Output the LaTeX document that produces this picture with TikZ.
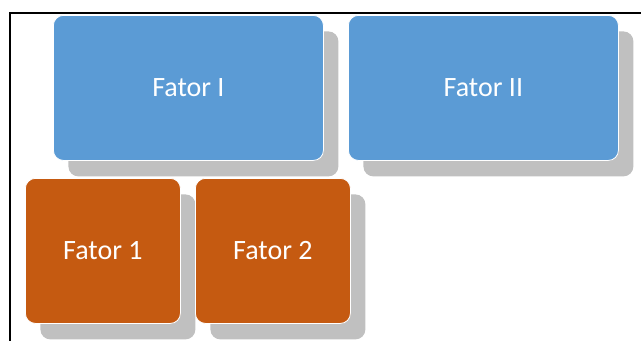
\documentclass[tikz,border=0pt]{standalone}
\usepackage{fontspec}
\setmainfont{Carlito}
\usetikzlibrary{shadows}
\definecolor{boxblue}{HTML}{5B9BD5}
\definecolor{boxorange}{HTML}{C55A11}
\definecolor{shadowgray}{HTML}{C0C0C0}
\tikzset{
  fbox/.style={rounded corners=10pt, draw=white, line width=0.8pt, text=white,
    font=\fontsize{28}{32}\selectfont, anchor=north west, inner sep=0pt,
    general shadow={fill=shadowgray, shadow xshift=15pt, shadow yshift=-16pt, draw=none}},
  bluebox/.style={fbox, fill=boxblue, minimum width=270pt, minimum height=145pt},
  orangebox/.style={fbox, fill=boxorange, minimum width=155pt, minimum height=145pt},
  frame/.style={line width=2.2pt, black}
}
\begin{document}
\begin{tikzpicture}[x=1pt, y=-1pt]
\useasboundingbox (0,0) rectangle (641,341);
\node[bluebox] (f1) at (53,15) {Fator I};
\node[bluebox] (f2) at (348,15) {Fator II};
\node[orangebox] (o1) at (25,178) {Fator 1};
\node[orangebox] (o2) at (195,178) {Fator 2};
\coordinate (tr) at (641,13);
\coordinate (tl) at (10,13);
\coordinate (bl) at (10,341);
\draw[frame] (tr) -- (tl) -- (bl);
\end{tikzpicture}
\end{document}
